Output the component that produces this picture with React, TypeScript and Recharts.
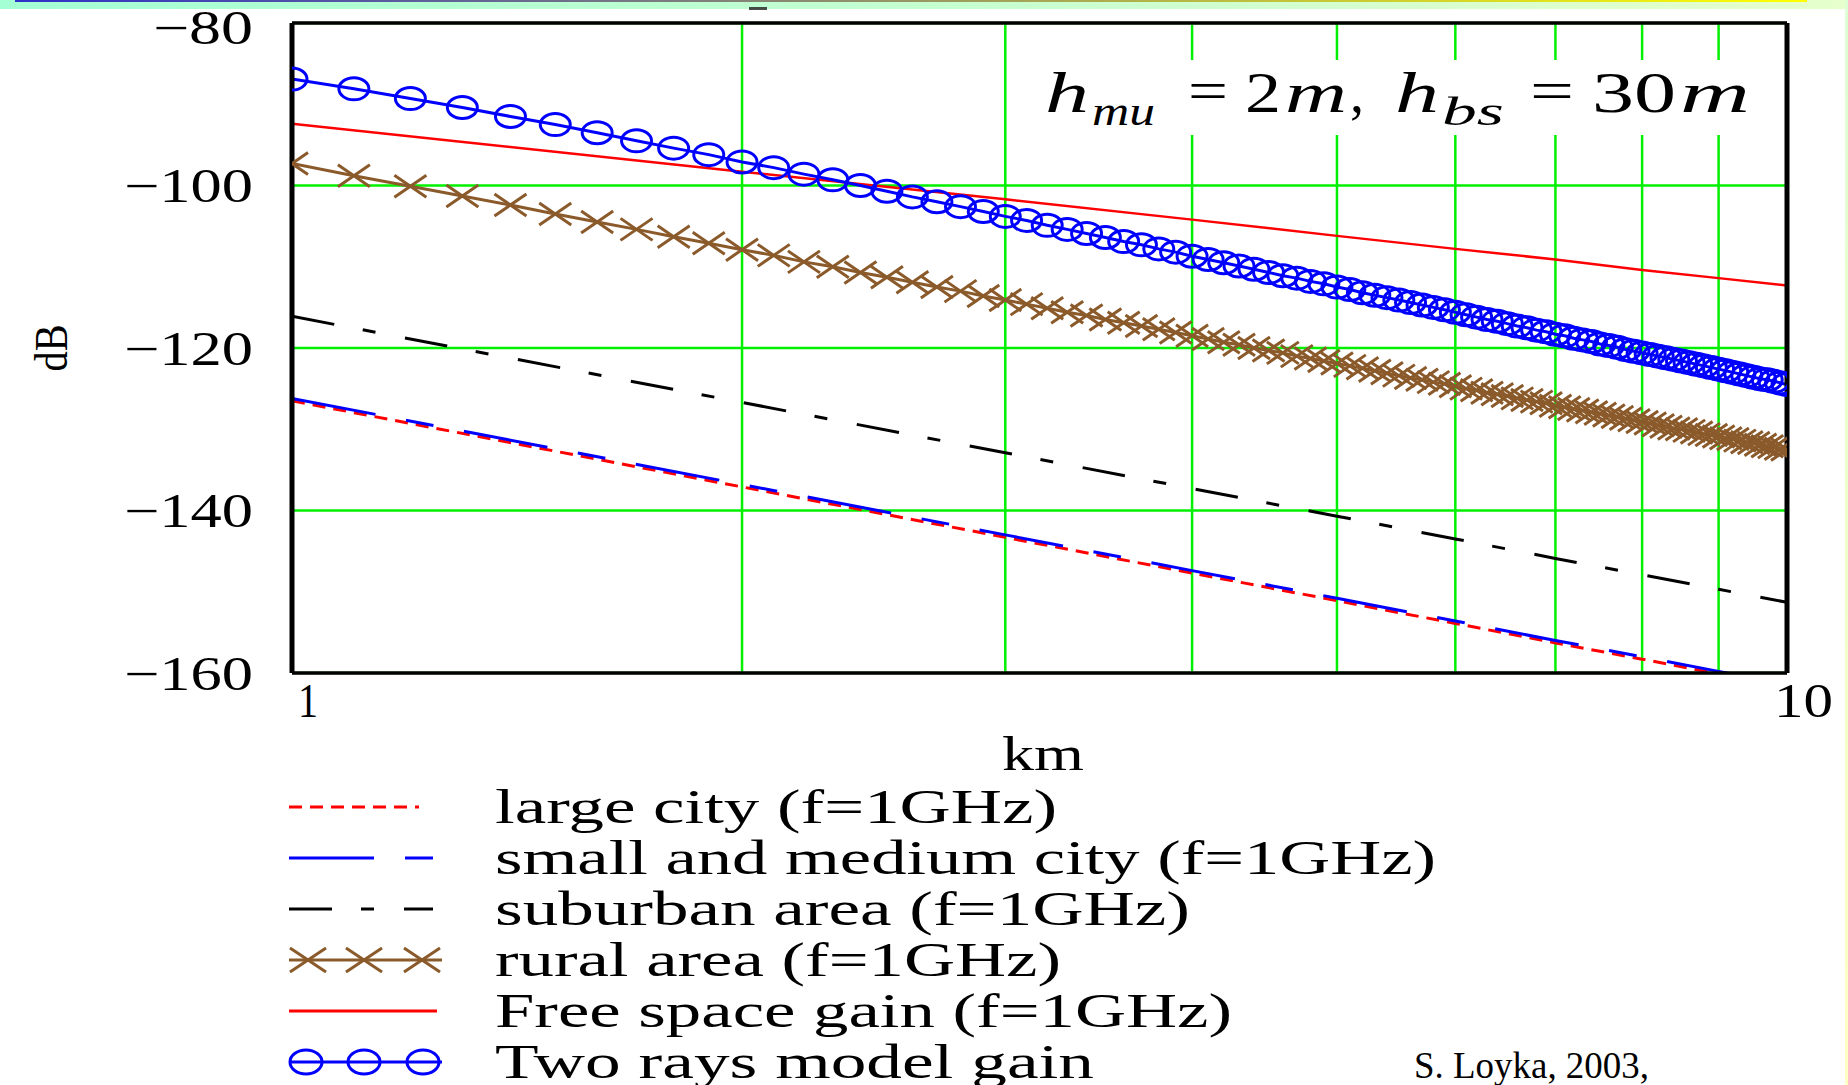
import React from "react";
import { LineChart, Line, XAxis, YAxis, CartesianGrid, ReferenceLine } from "recharts";

document.body.style.margin = "0";

// ---------- data ----------
const distKm = [
  1.0, 1.1, 1.2, 1.3, 1.4, 1.5, 1.6, 1.7, 1.8, 1.9,
  2.0, 2.1, 2.2, 2.3, 2.4, 2.5, 2.6, 2.7, 2.8, 2.9,
  3.0, 3.1, 3.2, 3.3, 3.4, 3.5, 3.6, 3.7, 3.8, 3.9,
  4.0, 4.1, 4.2, 4.3, 4.4, 4.5, 4.6, 4.7, 4.8, 4.9,
  5.0, 5.1, 5.2, 5.3, 5.4, 5.5, 5.6, 5.7, 5.8, 5.9,
  6.0, 6.1, 6.2, 6.3, 6.4, 6.5, 6.6, 6.7, 6.8, 6.9,
  7.0, 7.1, 7.2, 7.3, 7.4, 7.5, 7.6, 7.7, 7.8, 7.9,
  8.0, 8.1, 8.2, 8.3, 8.4, 8.5, 8.6, 8.7, 8.8, 8.9,
  9.0, 9.1, 9.2, 9.3, 9.4, 9.5, 9.6, 9.7, 9.8, 9.9,
  10.0,
];

const twoRaysDb = [
  -86.9, -88.1, -89.3, -90.4, -91.5, -92.5, -93.5, -94.5, -95.4, -96.2,
  -97.1, -97.8, -98.6, -99.3, -100.0, -100.7, -101.4, -102.0, -102.6, -103.2,
  -103.8, -104.3, -104.9, -105.4, -105.9, -106.4, -106.9, -107.3, -107.8, -108.2,
  -108.7, -109.1, -109.5, -109.9, -110.3, -110.7, -111.1, -111.4, -111.8, -112.1,
  -112.5, -112.8, -113.2, -113.5, -113.8, -114.1, -114.4, -114.7, -115.0, -115.3,
  -115.6, -115.9, -116.2, -116.5, -116.7, -117.0, -117.3, -117.5, -117.8, -118.0,
  -118.3, -118.5, -118.8, -119.0, -119.2, -119.5, -119.7, -119.9, -120.2, -120.4,
  -120.6, -120.8, -121.0, -121.2, -121.4, -121.6, -121.8, -122.0, -122.2, -122.4,
  -122.6, -122.8, -123.0, -123.2, -123.4, -123.6, -123.8, -123.9, -124.1, -124.3,
  -124.5,
];

const ruralDb = [
  -97.3, -98.8, -100.1, -101.3, -102.4, -103.5, -104.5, -105.4, -106.3, -107.1,
  -107.9, -108.6, -109.4, -110.0, -110.7, -111.3, -111.9, -112.5, -113.0, -113.6,
  -114.1, -114.6, -115.1, -115.6, -116.0, -116.5, -116.9, -117.3, -117.7, -118.1,
  -118.5, -118.9, -119.3, -119.6, -120.0, -120.3, -120.6, -121.0, -121.3, -121.6,
  -121.9, -122.2, -122.5, -122.8, -123.1, -123.4, -123.7, -123.9, -124.2, -124.4,
  -124.7, -125.0, -125.2, -125.5, -125.7, -125.9, -126.2, -126.4, -126.6, -126.8,
  -127.1, -127.3, -127.5, -127.7, -127.9, -128.1, -128.3, -128.5, -128.7, -128.9,
  -129.1, -129.3, -129.5, -129.7, -129.9, -130.0, -130.2, -130.4, -130.6, -130.7,
  -130.9, -131.1, -131.2, -131.4, -131.6, -131.7, -131.9, -132.1, -132.2, -132.4,
  -132.5,
];

const coarseKm = [1, 2, 3, 4, 5, 6, 7, 8, 9, 10];
const freeSpaceDb = [-92.4, -98.3, -101.7, -104.2, -106.2, -107.8, -109.1, -110.4, -111.4, -112.3];
const largeCityDb = [-126.5, -137.1, -143.3, -147.7, -151.1, -153.9, -156.3, -158.3, -160.1, -161.7];
const smallCityDb = [-126.2, -136.8, -143.0, -147.4, -150.8, -153.6, -156.0, -158.0, -159.8, -161.4];
const suburbanDb = [-116.1, -126.7, -132.9, -137.3, -140.7, -143.5, -145.9, -147.9, -149.7, -151.3];

const xTicks = [1, 2, 3, 4, 5, 6, 7, 8, 9, 10];
const xTickLabels = ["1", "", "", "", "", "", "", "", "", "10"];
const yTicks = [-160, -140, -120, -100, -80];
const yTickLabels = ["\u2212160", "\u2212140", "\u2212120", "\u2212100", "\u221280"];

const seriesNames = [
  "large city (f=1GHz)",
  "small and medium city (f=1GHz)",
  "suburban area (f=1GHz)",
  "rural area (f=1GHz)",
  "Free space gain (f=1GHz)",
  "Two rays model gain",
];

const toData = (xs: number[], ys: number[]) => xs.map((km, i) => ({ km, db: ys[i] }));
const twoRaysData = toData(distKm, twoRaysDb);
const ruralData = toData(distKm, ruralDb);
const freeSpaceData = toData(coarseKm, freeSpaceDb);
const largeCityData = toData(coarseKm, largeCityDb);
const smallCityData = toData(coarseKm, smallCityDb);
const suburbanData = toData(coarseKm, suburbanDb);

// ---------- styles ----------
const W = 1848;
const H = 1085;
const SERIF = '"Liberation Serif", "Times New Roman", serif';
const BLUE = "#0000ff";
const RED = "#ff0000";
const BROWN = "#8b5a2b";
const GREEN = "#00f000";
const DASH_LARGE = "13 8";
const DASH_SMALL = "85 31 28 31";
const DASH_SUB = "43 29 13 30";

const EllipseDot = (props: any) => {
  const { cx, cy, index } = props;
  if (cx == null || cy == null) return <g key={`e${index}`} />;
  return <ellipse key={`e${index}`} cx={cx} cy={cy} rx={15} ry={11} fill="none" stroke={BLUE} strokeWidth={3} />;
};

const CrossDot = (props: any) => {
  const { cx, cy, index } = props;
  if (cx == null || cy == null) return <g key={`c${index}`} />;
  const d = `M${cx - 16},${cy - 11}L${cx + 16},${cy + 11}M${cx - 16},${cy + 11}L${cx + 16},${cy - 11}`;
  return <path key={`c${index}`} d={d} stroke={BROWN} strokeWidth={3} fill="none" />;
};

const YTick = (props: any) => {
  const { x, y, payload } = props;
  const idx = yTicks.indexOf(payload.value);
  const label = yTickLabels[idx] || "";
  const w = label.length > 3 ? 129 : 100;
  const dy = idx === yTicks.length - 1 ? 4 : 0;
  return (
    <text x={x - 39 - w} y={y + dy} dominantBaseline="central" fontFamily={SERIF} fontSize={48} fill="#000"
      textLength={w} lengthAdjust="spacingAndGlyphs">{label}</text>
  );
};

const XTick = (props: any) => {
  const { x, y, payload } = props;
  const i = xTicks.indexOf(payload.value);
  const label = xTickLabels[i] || "";
  if (!label) return <g />;
  const w = label.length > 1 ? 59 : 20;
  const left = i === 0 ? x + 6 : x - 13;
  return (
    <text x={left} y={y + 27} dominantBaseline="central" fontFamily={SERIF} fontSize={48} fill="#000"
      textLength={w} lengthAdjust="spacingAndGlyphs">{label}</text>
  );
};

const LegendSymbol = ({ i, cy }: { i: number; cy: number }) => {
  const x0 = 289;
  if (i === 0) return <line x1={x0} x2={419} y1={cy} y2={cy} stroke={RED} strokeWidth={3} strokeDasharray={DASH_LARGE} />;
  if (i === 1) return <line x1={x0} x2={433} y1={cy} y2={cy} stroke={BLUE} strokeWidth={3} strokeDasharray={DASH_SMALL} />;
  if (i === 2) return <line x1={x0} x2={433} y1={cy} y2={cy} stroke="#000" strokeWidth={3} strokeDasharray={DASH_SUB} />;
  if (i === 3)
    return (
      <g>
        <line x1={x0} x2={442} y1={cy} y2={cy} stroke={BROWN} strokeWidth={3} />
        {[308, 364, 422].map((mx) => (
          <path key={mx} d={`M${mx - 18},${cy - 12}L${mx + 18},${cy + 12}M${mx - 18},${cy + 12}L${mx + 18},${cy - 12}`}
            stroke={BROWN} strokeWidth={3} />
        ))}
      </g>
    );
  if (i === 4) return <line x1={x0} x2={437} y1={cy} y2={cy} stroke={RED} strokeWidth={3} />;
  return (
    <g>
      <line x1={x0} x2={442} y1={cy} y2={cy} stroke={BLUE} strokeWidth={3} />
      {[306, 364, 423].map((mx) => (
        <ellipse key={mx} cx={mx} cy={cy} rx={16} ry={12} fill="none" stroke={BLUE} strokeWidth={3} />
      ))}
    </g>
  );
};

const legendWidths = [562, 941, 695, 566, 737, 599];

const Overlay = () => (
  <svg width={W} height={H} style={{ position: "absolute", left: 0, top: 0, pointerEvents: "none" }}>
    <defs>
      <linearGradient id="bandG" x1="0" x2="1" y1="0" y2="0">
        <stop offset="0" stopColor="#a4ffd4" />
        <stop offset="1" stopColor="#e6ffcc" />
      </linearGradient>
      <linearGradient id="lineG" x1="0" x2="1" y1="0" y2="0">
        <stop offset="0" stopColor="#3030c8" />
        <stop offset="1" stopColor="#ffff00" />
      </linearGradient>
      <linearGradient id="sideG" x1="0" x2="0" y1="0" y2="1">
        <stop offset="0" stopColor="#dcffd4" />
        <stop offset="1" stopColor="#ffffc4" />
      </linearGradient>
    </defs>
    <rect x={0} y={0} width={W} height={9} fill="url(#bandG)" />
    <rect x={15} y={0} width={1792} height={2} fill="url(#lineG)" />
    <rect x={1845} y={0} width={3} height={H} fill="url(#sideG)" />
    <rect x={749} y={7} width={18} height={3} fill="#222" opacity={0.8} />

    {/* parameter annotation */}
    <rect x={1020} y={60} width={755} height={75} fill="#fff" />
    <g fontFamily={SERIF} fill="#000">
      <text x={1045} y={112} fontSize={56} fontStyle="italic" textLength={44} lengthAdjust="spacingAndGlyphs">h</text>
      <text x={1092} y={125} fontSize={40} fontStyle="italic" textLength={63} lengthAdjust="spacingAndGlyphs">mu</text>
      <text x={1188} y={110} fontSize={56} textLength={40} lengthAdjust="spacingAndGlyphs">=</text>
      <text x={1245} y={112} fontSize={56} textLength={36} lengthAdjust="spacingAndGlyphs">2</text>
      <text x={1285} y={112} fontSize={56} fontStyle="italic" textLength={62} lengthAdjust="spacingAndGlyphs">m</text>
      <text x={1350} y={112} fontSize={56} textLength={14} lengthAdjust="spacingAndGlyphs">,</text>
      <text x={1395} y={112} fontSize={56} fontStyle="italic" textLength={44} lengthAdjust="spacingAndGlyphs">h</text>
      <text x={1442} y={125} fontSize={40} fontStyle="italic" textLength={62} lengthAdjust="spacingAndGlyphs">bs</text>
      <text x={1530} y={110} fontSize={56} textLength={44} lengthAdjust="spacingAndGlyphs">=</text>
      <text x={1592} y={112} fontSize={56} textLength={84} lengthAdjust="spacingAndGlyphs">30</text>
      <text x={1680} y={112} fontSize={56} fontStyle="italic" textLength={70} lengthAdjust="spacingAndGlyphs">m</text>
    </g>

    {/* axis titles */}
    <text x={1002} y={770} fontFamily={SERIF} fontSize={48} textLength={82} lengthAdjust="spacingAndGlyphs">km</text>
    <text transform="translate(51,348) rotate(-90)" x={-23.5} y={0} dominantBaseline="central" fontFamily={SERIF}
      fontSize={46} textLength={47} lengthAdjust="spacingAndGlyphs">dB</text>

    {/* legend */}
    {seriesNames.map((name, i) => {
      const cy = 807 + 51 * i;
      return (
        <g key={name}>
          <LegendSymbol i={i} cy={cy} />
          <text x={495} y={cy + 16} fontFamily={SERIF} fontSize={48} textLength={legendWidths[i]}
            lengthAdjust="spacingAndGlyphs">{name}</text>
        </g>
      );
    })}

    <text x={1414} y={1078} fontFamily={SERIF} fontSize={37} textLength={235} lengthAdjust="spacingAndGlyphs">
      S. Loyka, 2003,
    </text>
  </svg>
);

export default function App() {
  return (
    <div style={{ position: "relative", width: W, height: H, background: "#fff", overflow: "hidden" }}>
      <LineChart width={W} height={H} margin={{ top: 23, right: 61, left: 0, bottom: 0 }}>
        <CartesianGrid stroke={GREEN} strokeWidth={2.5} />
        <XAxis
          dataKey="km"
          type="number"
          scale="log"
          domain={[1, 10]}
          ticks={xTicks}
          interval={0}
          allowDataOverflow
          height={412}
          axisLine={false}
          tickLine={false}
          tickSize={0}
          tickMargin={0}
          tick={(p: any) => <XTick {...p} />}
        />
        <YAxis
          type="number"
          domain={[-160, -80]}
          ticks={yTicks}
          interval={0}
          allowDataOverflow
          width={292}
          axisLine={false}
          tickLine={false}
          tickSize={0}
          tickMargin={0}
          tick={(p: any) => <YTick {...p} />}
        />
        <Line data={largeCityData} dataKey="db" type="linear" stroke={RED} strokeWidth={3}
          strokeDasharray={DASH_LARGE} dot={false} isAnimationActive={false} />
        <Line data={smallCityData} dataKey="db" type="linear" stroke={BLUE} strokeWidth={3}
          strokeDasharray={DASH_SMALL} dot={false} isAnimationActive={false} />
        <Line data={suburbanData} dataKey="db" type="linear" stroke="#000" strokeWidth={3}
          strokeDasharray={DASH_SUB} dot={false} isAnimationActive={false} />
        <Line data={ruralData} dataKey="db" type="linear" stroke={BROWN} strokeWidth={3}
          dot={CrossDot} isAnimationActive={false} />
        <Line data={freeSpaceData} dataKey="db" type="linear" stroke={RED} strokeWidth={2.5}
          dot={false} isAnimationActive={false} />
        <Line data={twoRaysData} dataKey="db" type="linear" stroke={BLUE} strokeWidth={3}
          dot={EllipseDot} isAnimationActive={false} />
        <ReferenceLine x={1} stroke="#000" strokeWidth={5} />
        <ReferenceLine x={10} stroke="#000" strokeWidth={5} />
        <ReferenceLine y={-80} stroke="#000" strokeWidth={3.5} />
        <ReferenceLine y={-160} stroke="#000" strokeWidth={3.5} />
      </LineChart>
      <Overlay />
    </div>
  );
}
